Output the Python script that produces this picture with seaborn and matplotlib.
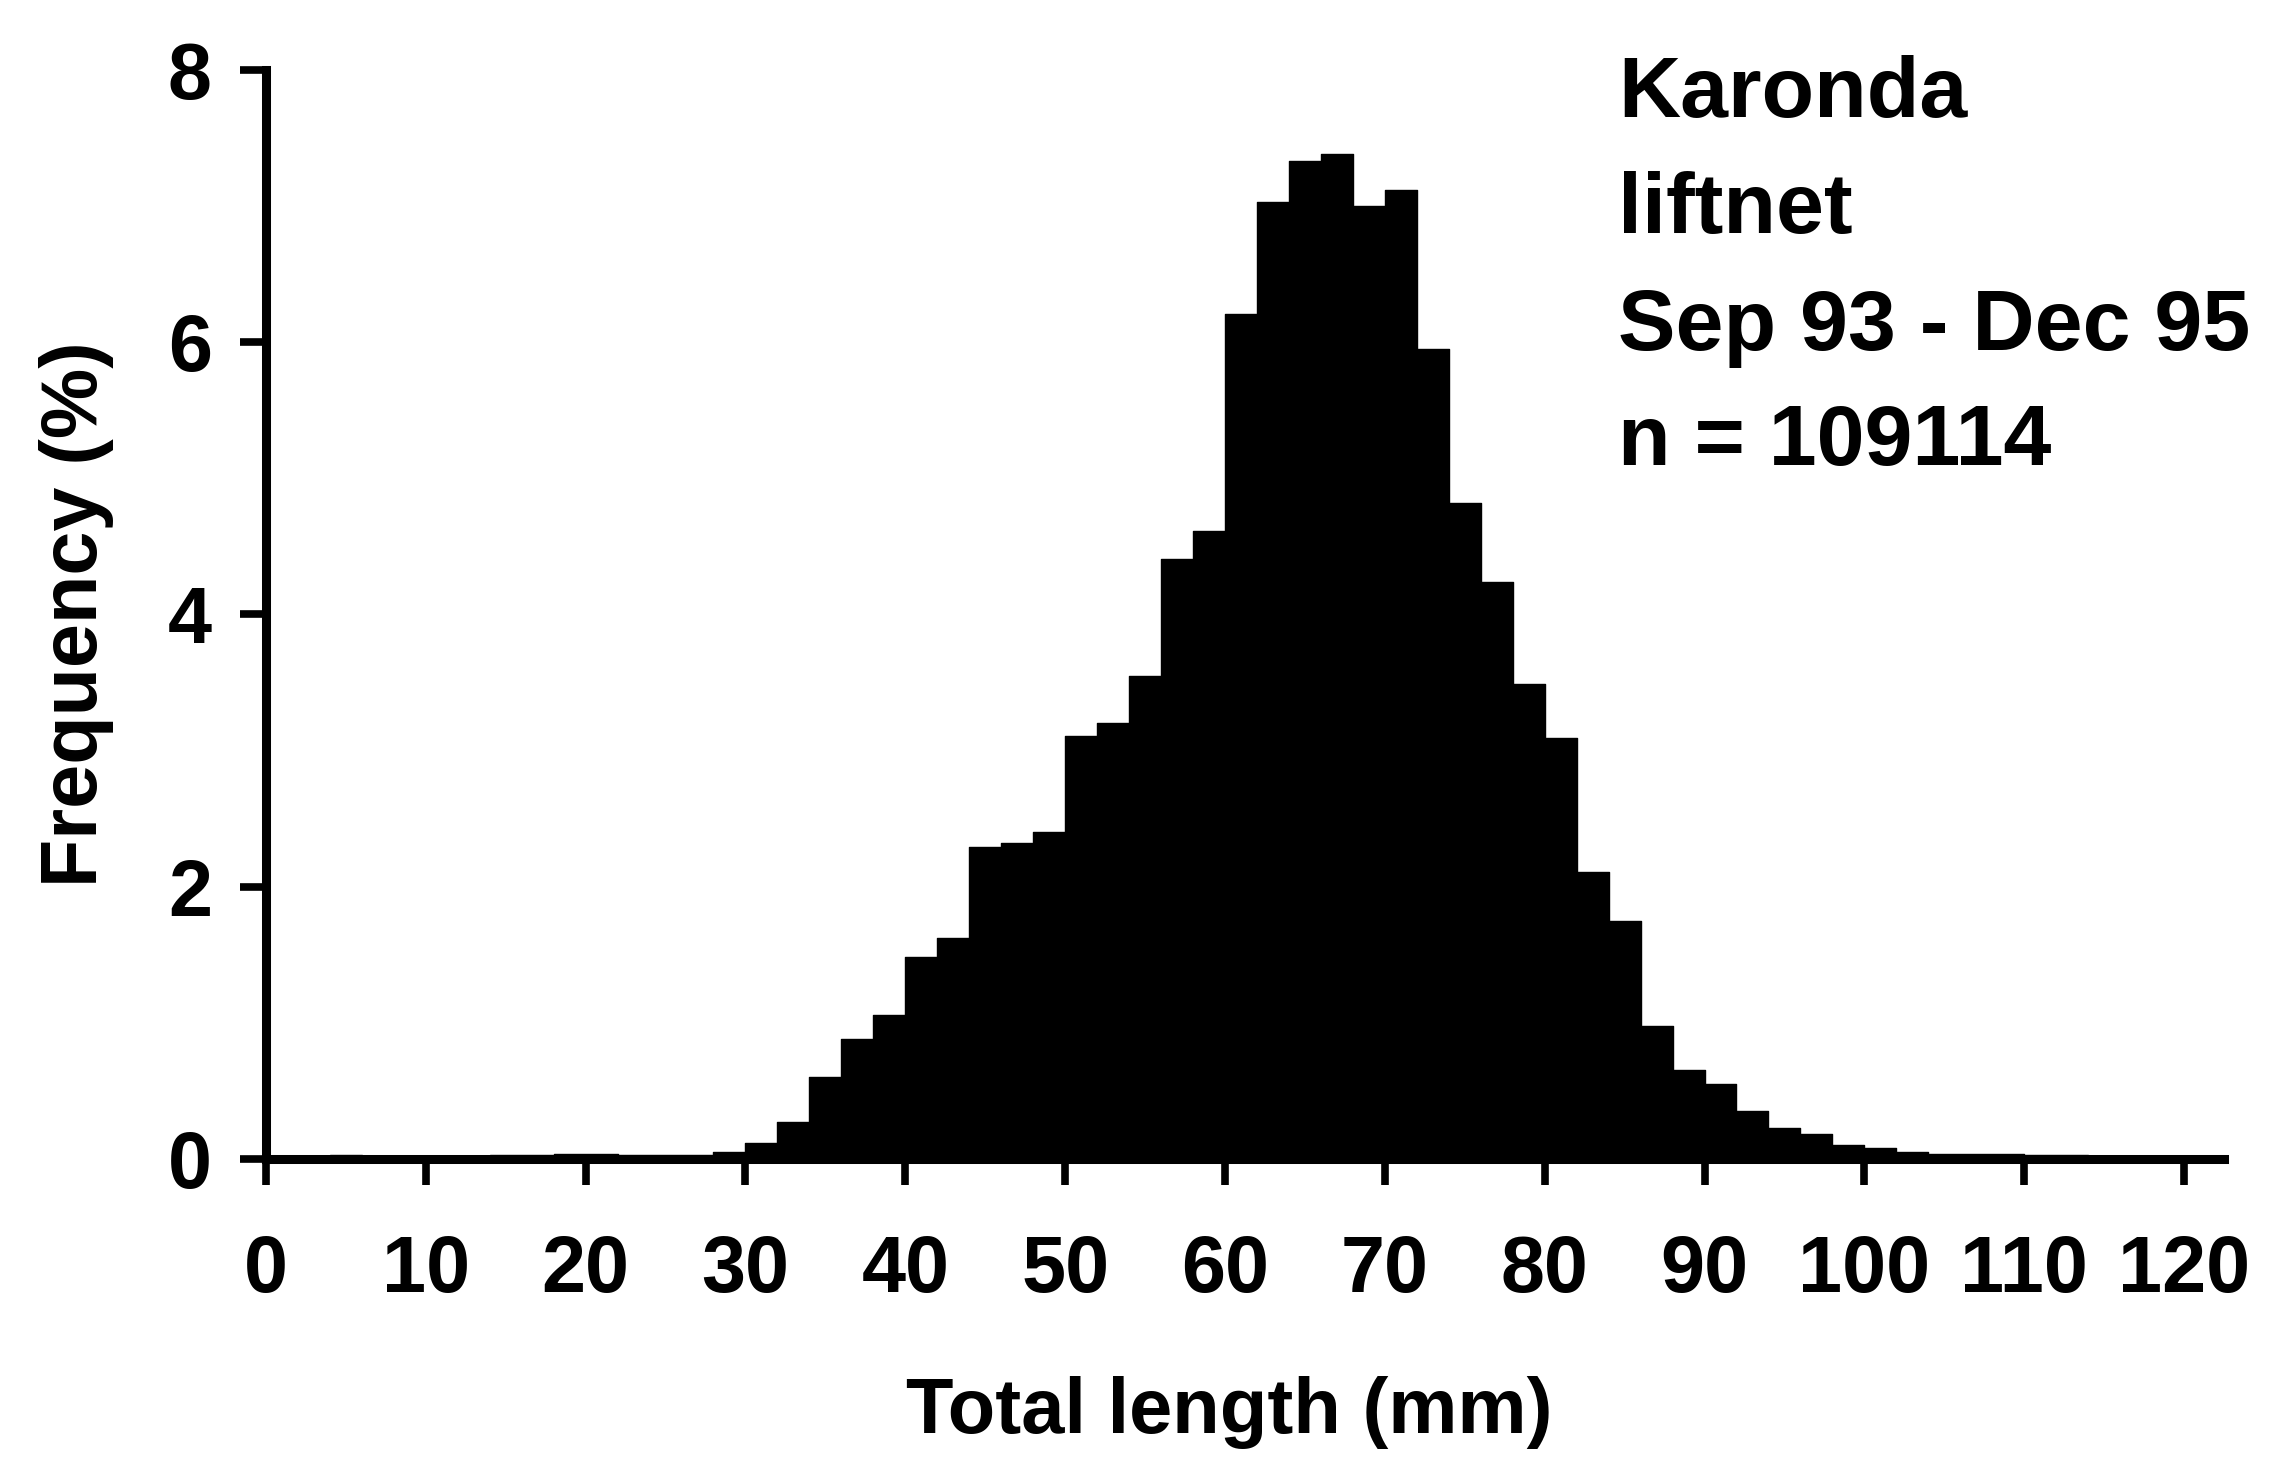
import numpy as np
import pandas as pd
import matplotlib
matplotlib.use('Agg')
import matplotlib.pyplot as plt
import seaborn as sns

# length classes (mm), 2 mm wide, lower bounds 0..120
bin_edges = list(range(0, 124, 2))
# frequency (%) per 2 mm class
freq_pct = [0.02, 0.02, 0.03, 0.02, 0.02, 0.02, 0.02, 0.03, 0.03, 0.04,
            0.04, 0.03, 0.03, 0.03, 0.05,
            0.12, 0.27, 0.60, 0.88, 1.06, 1.48, 1.62, 2.29, 2.32, 2.40,
            3.11, 3.20, 3.55, 4.41, 4.61, 6.21,
            7.03, 7.33, 7.38, 7.00, 7.12, 5.95, 4.82, 4.24, 3.49, 3.09,
            2.11, 1.75, 0.98, 0.65, 0.55, 0.35,
            0.23, 0.18, 0.10, 0.08, 0.05, 0.04, 0.04, 0.04, 0.03, 0.03,
            0.02, 0.02, 0.02, 0.02]
x_ticks = [0, 10, 20, 30, 40, 50, 60, 70, 80, 90, 100, 110, 120]
y_ticks = [0, 2, 4, 6, 8]
info_lines = ['Karonda', 'liftnet', 'Sep 93 - Dec 95', 'n = 109114']

df = pd.DataFrame({'length': [e + 1 for e in bin_edges[:-1]], 'freq': freq_pct})

sns.set_style('ticks')
plt.rcParams['font.family'] = ['Liberation Sans', 'DejaVu Sans']
plt.rcParams['font.weight'] = 'bold'
plt.rcParams['text.color'] = 'black'
plt.rcParams['axes.labelcolor'] = 'black'
plt.rcParams['axes.labelweight'] = 'bold'

fig = plt.figure(figsize=(22.71, 14.73), dpi=100)
ax = fig.add_axes([0.1171, 0.2132, 0.8622, 0.7393])

# histogram from pre-binned percentages
sns.histplot(data=df, x='length', weights='freq', bins=bin_edges, element='step',
             fill=True, color='black', alpha=1, linewidth=1, ax=ax)

ax.set_xlim(0, 122.5)
ax.set_ylim(0, 8)
ax.set_xticks(x_ticks)
ax.set_yticks(y_ticks)

sns.despine(ax=ax)
for side in ['left', 'bottom']:
    ax.spines[side].set_linewidth(6.5)
    ax.spines[side].set_color('black')

ax.tick_params(axis='both', direction='out', length=19, width=5.5, colors='black', labelsize=57)
ax.tick_params(axis='x', pad=35)
ax.tick_params(axis='y', pad=20)
for lbl in ax.get_xticklabels() + ax.get_yticklabels():
    lbl.set_fontweight('bold')

ax.set_xlabel('Total length (mm)', fontsize=56, fontweight='bold')
ax.set_ylabel('Frequency (%)', fontsize=57, fontweight='bold')
ax.xaxis.label.set_va('center')
ax.yaxis.label.set_va('center')
ax.xaxis.set_label_coords(0.492, -0.233)
ax.yaxis.set_label_coords(-0.097, 0.5)

# station / gear / period text block
baselines = [0.9206, 0.8418, 0.7624, 0.6843]
for line, yb in zip(info_lines, baselines):
    fig.text(0.7125, yb, line, fontsize=62, fontweight='bold', va='baseline', ha='left')

fig.savefig('out.png', dpi=100)
